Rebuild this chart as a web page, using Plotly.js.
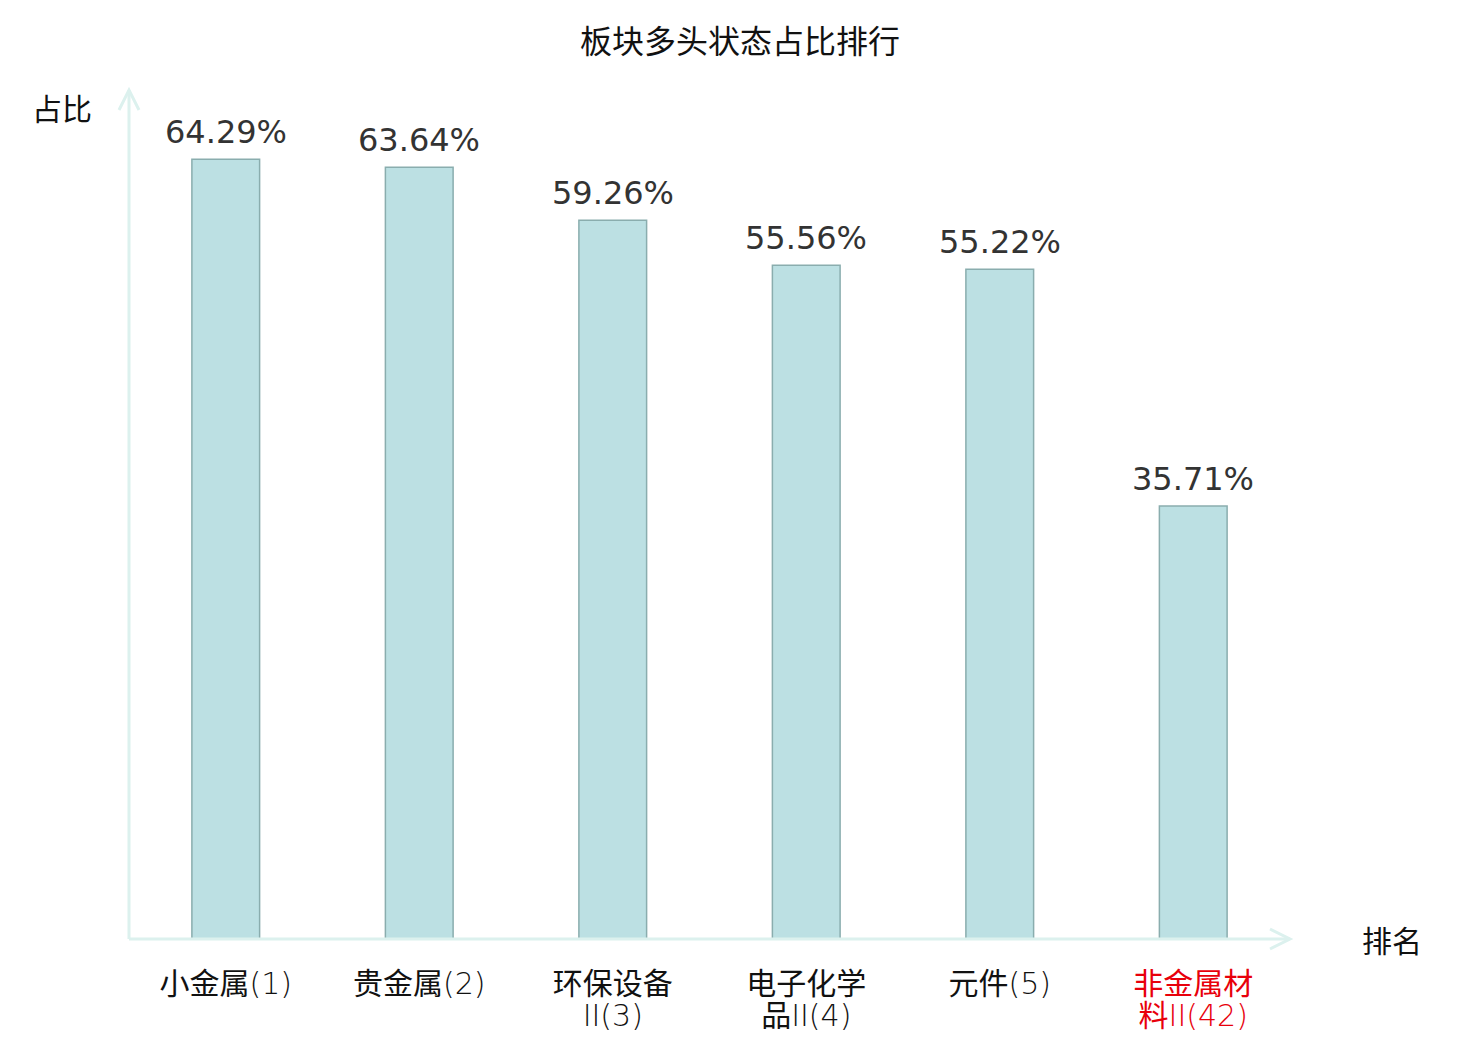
<!DOCTYPE html>
<html>
<head>
<meta charset="utf-8">
<script src="https://cdn.plot.ly/plotly-3.0.1.min.js"></script>
<style>
    body { margin: 0; background: #fff; }
    #chart { width: 1480px; height: 1040px; }
</style>
</head>
<body>
<div id="chart"></div>
<script>
// 板块名称与排名
const sectors = ['小金属(1)', '贵金属(2)', '环保设备II(3)', '电子化学品II(4)', '元件(5)', '非金属材料II(42)'];
// tick labels wrap onto two lines
const tickLine1 = ['小金属(1)', '贵金属(2)', '环保设备', '电子化学', '元件(5)', '非金属材'];
const tickLine2 = ['', '', 'II(3)', '品II(4)', '', '料II(42)'];
const highlight = [false, false, false, false, false, true];
// 多头状态占比 (%)
const ratios = [64.29, 63.64, 59.26, 55.56, 55.22, 35.71];

const FONT = 'DejaVu Sans, Noto Sans CJK SC, sans-serif';
const CJK_FONT = 'Noto Sans CJK SC, DejaVu Sans, sans-serif';
const AXIS_COLOR = '#dcf1ee';
const TICK_FONT = {family: FONT, size: 30, color: '#111111'};

// latin parts of the labels are drawn in a light weight, CJK stays regular
function styleLabels(list) {
    return list.map(function(t, i) {
        let s = t.replace(/([A-Za-z0-9()]+)/g, '<span style="font-weight:200">$1</span>');
        return highlight[i] ? '<span style="color:#e8000b">' + s + '</span>' : s;
    });
}

const trace = {
    type: 'bar',
    x: sectors,
    y: ratios,
    width: 0.35,
    marker: {
        color: '#bce0e3',
        line: {color: '#8aadae', width: 1.5}
    },
    hoverinfo: 'none'
};

const valueLabels = ratios.map(function(v, i) {
    return {
        x: sectors[i], y: v, xref: 'x', yref: 'y',
        text: v.toFixed(2) + '%',
        showarrow: false,
        yanchor: 'bottom',
        yshift: 6,
        font: {family: FONT, size: 32, color: '#333333'}
    };
});

const layout = {
    width: 1480,
    height: 1040,
    margin: {l: 129, r: 190, t: 90, b: 101},
    paper_bgcolor: '#ffffff',
    plot_bgcolor: '#ffffff',
    showlegend: false,
    title: {
        text: '板块多头状态占比排行',
        font: {family: CJK_FONT, size: 32, color: '#111111'},
        x: 0.5,
        xanchor: 'center',
        y: 0.96,
        yanchor: 'middle'
    },
    xaxis: {
        type: 'category',
        range: [-0.5, 5.5],
        tickvals: sectors,
        ticktext: styleLabels(tickLine1),
        showline: false,
        showgrid: false,
        zeroline: false,
        ticks: '',
        ticklabelstandoff: 24,
        tickfont: TICK_FONT
    },
    xaxis2: {
        overlaying: 'x',
        anchor: 'y',
        side: 'bottom',
        range: [-0.5, 5.5],
        tickvals: sectors.map((_, i) => i),
        ticktext: styleLabels(tickLine2),
        showline: false,
        showgrid: false,
        zeroline: false,
        ticks: '',
        ticklabelstandoff: 56,
        tickfont: TICK_FONT
    },
    yaxis: {
        range: [0, 70],
        showline: false,
        showgrid: false,
        zeroline: false,
        showticklabels: false,
        ticks: ''
    },
    shapes: [
        // y axis with arrow
        {type: 'line', xref: 'paper', yref: 'paper', x0: 0, x1: 0, y0: 0, y1: 1,
            line: {color: AXIS_COLOR, width: 3}},
        {type: 'path', xref: 'paper', yref: 'paper', xsizemode: 'pixel', ysizemode: 'pixel',
            xanchor: 0, yanchor: 1, path: 'M -10 -20 L 0 0 L 10 -20',
            line: {color: AXIS_COLOR, width: 3}},
        // x axis with arrow
        {type: 'line', xref: 'paper', yref: 'paper', x0: 0, x1: 1, y0: 0, y1: 0,
            line: {color: AXIS_COLOR, width: 3}},
        {type: 'path', xref: 'paper', yref: 'paper', xsizemode: 'pixel', ysizemode: 'pixel',
            xanchor: 1, yanchor: 0, path: 'M -20 10 L 0 0 L -20 -10',
            line: {color: AXIS_COLOR, width: 3}}
    ],
    annotations: valueLabels.concat([
        {text: '占比', xref: 'paper', yref: 'paper', x: -0.03, y: 1.0, xanchor: 'right', yanchor: 'top',
            yshift: 7, showarrow: false, font: {family: CJK_FONT, size: 30, color: '#111111'}},
        {text: '排名', xref: 'paper', yref: 'paper', x: 1.06, y: 0, xanchor: 'left', yanchor: 'middle',
            showarrow: false, font: {family: CJK_FONT, size: 30, color: '#111111'}}
    ])
};

// invisible trace keeps the second x axis alive
const axisHolder = {
    type: 'scatter', x: [0], y: [0], xaxis: 'x2', yaxis: 'y',
    mode: 'markers', marker: {opacity: 0}, hoverinfo: 'none'
};

Plotly.newPlot('chart', [trace, axisHolder], layout, {displayModeBar: false, staticPlot: true});
</script>
</body>
</html>
